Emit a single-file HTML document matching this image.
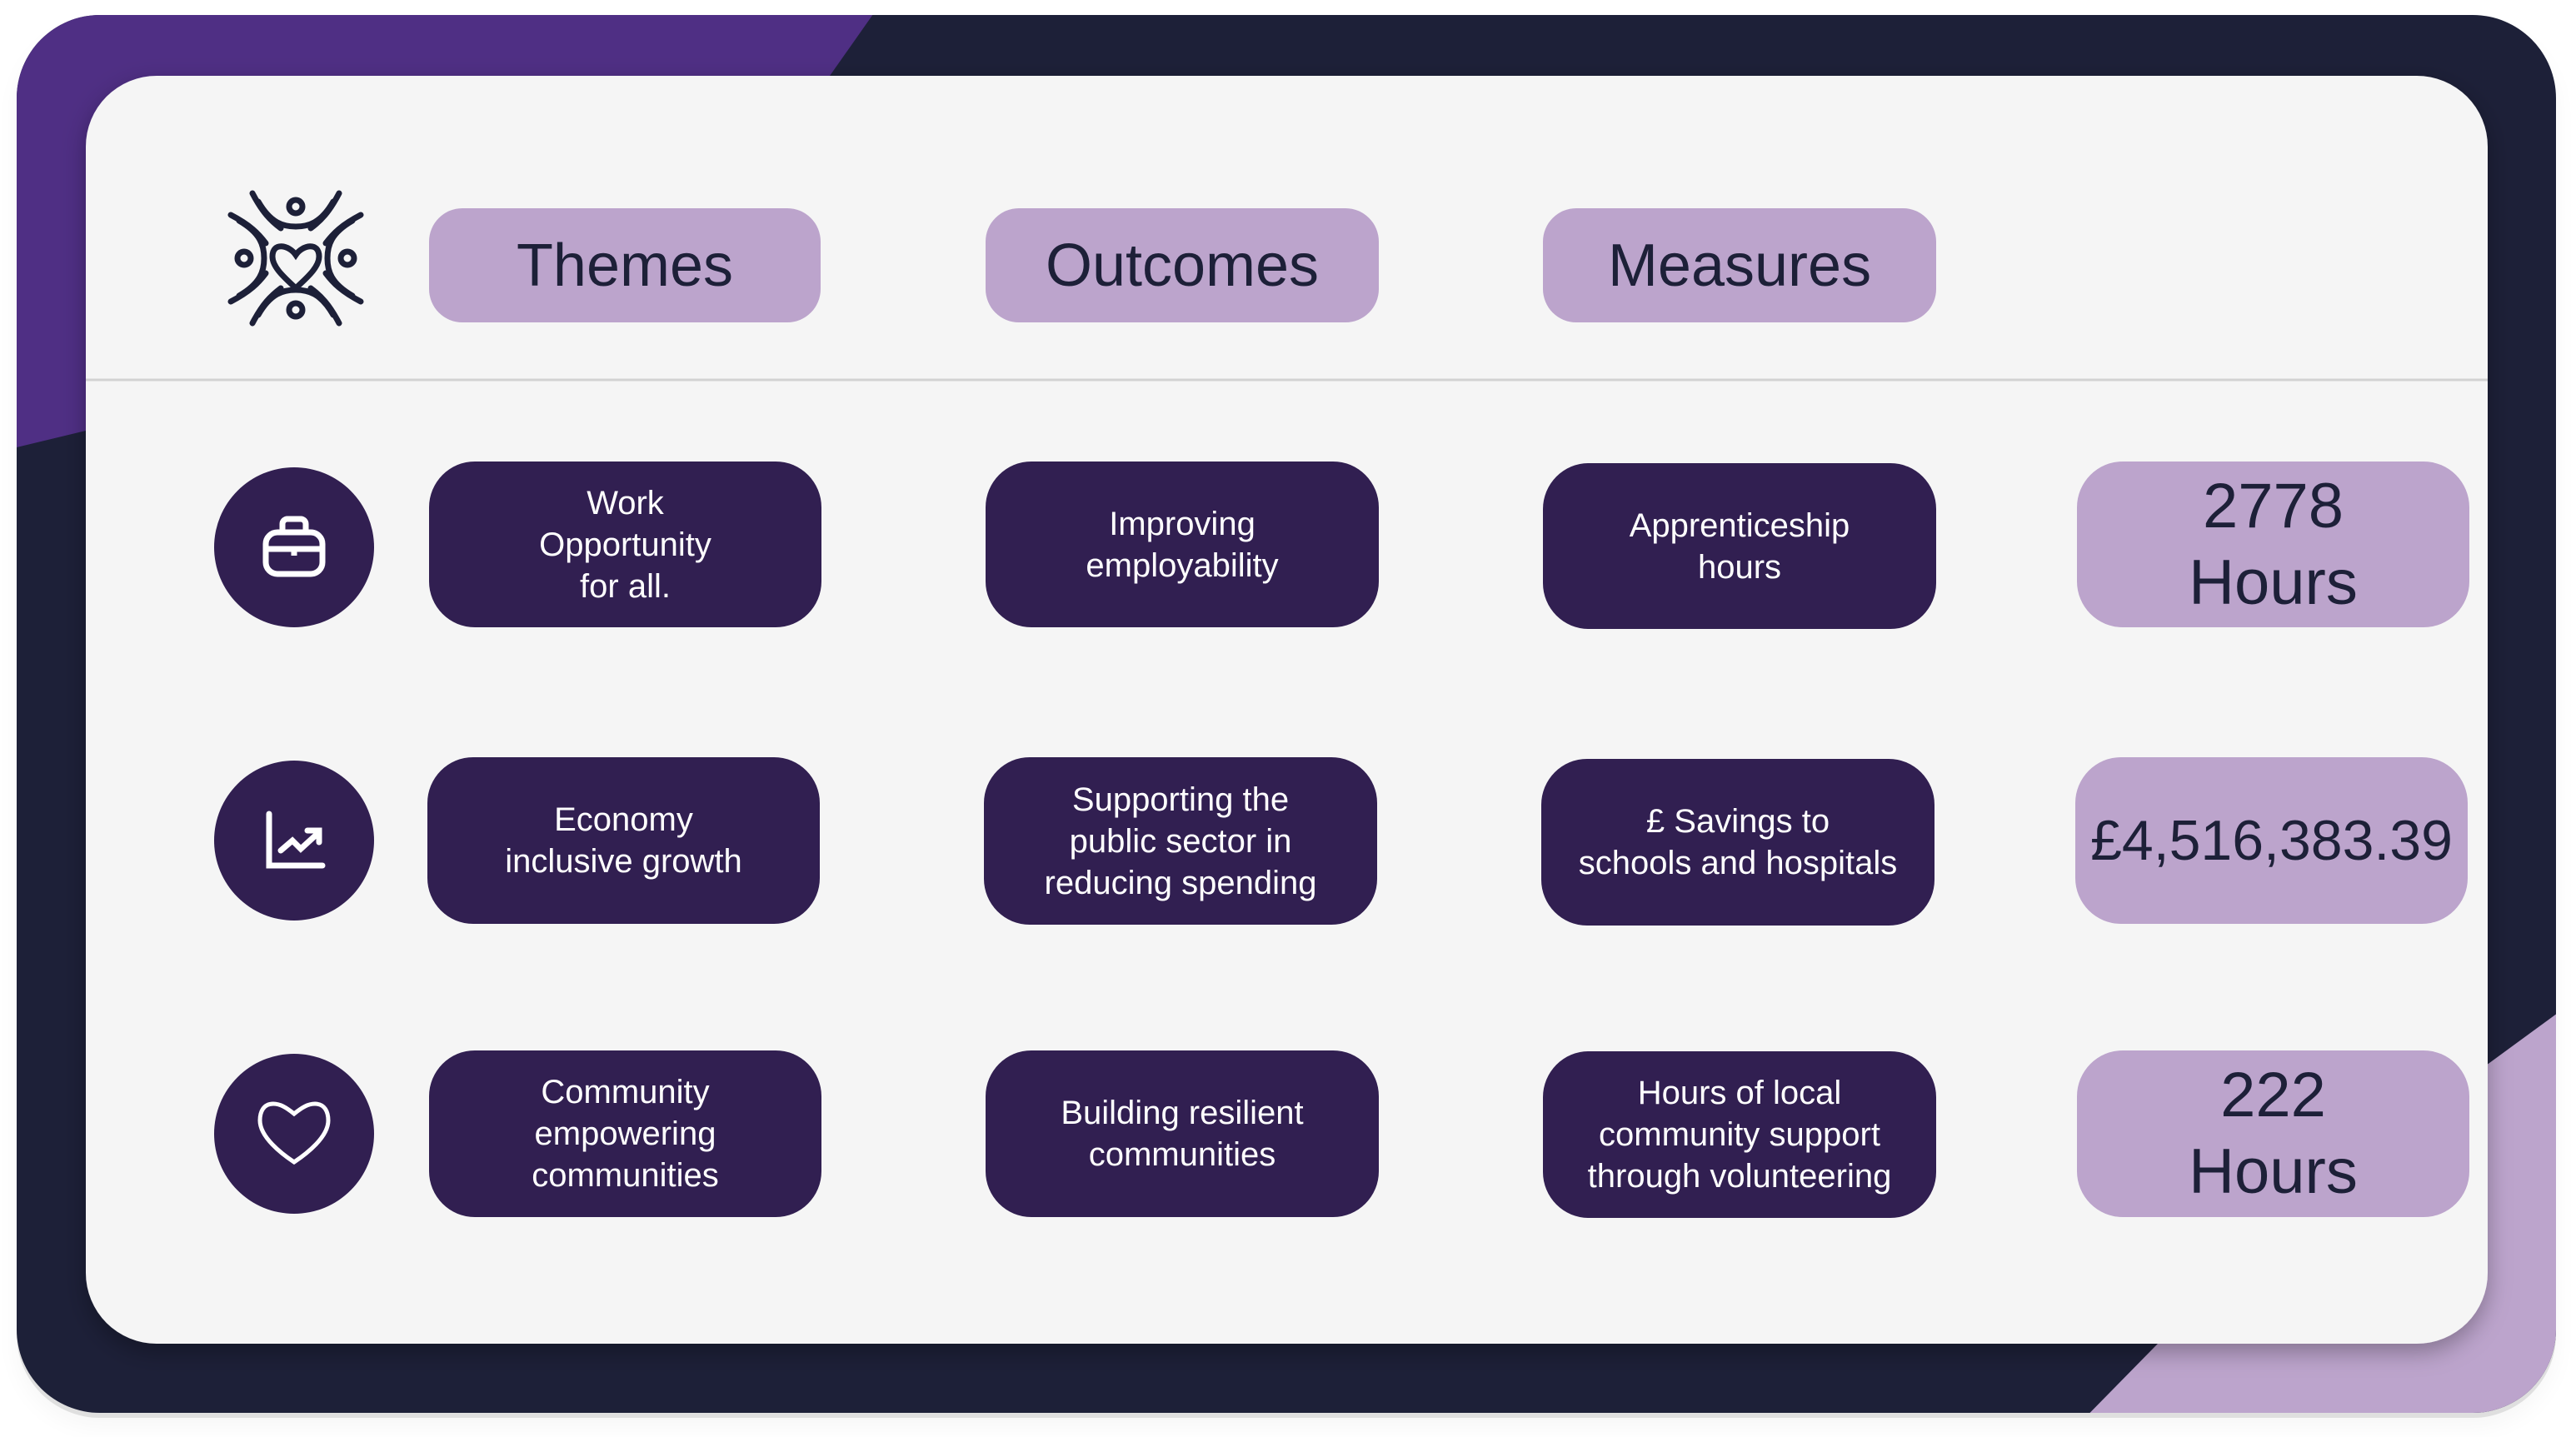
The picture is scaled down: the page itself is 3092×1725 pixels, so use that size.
<!DOCTYPE html>
<html><head><meta charset="utf-8"><style>
html,body{margin:0;padding:0;width:3092px;height:1725px;background:#fff;overflow:hidden;font-family:"Liberation Sans",sans-serif}
.a{position:absolute}
.pill{position:absolute;background:#bca4cc;color:#1d2038;border-radius:40px;display:flex;align-items:center;justify-content:center;text-align:center}
.dk{position:absolute;background:#311f51;color:#fff;border-radius:55px;display:flex;align-items:center;justify-content:center;text-align:center;font-size:40px;line-height:50px}
.circ{position:absolute;width:192px;height:192px;border-radius:50%;background:#311f51;display:flex;align-items:center;justify-content:center}
.lv{position:absolute;background:#bca4cc;color:#1d2038;border-radius:55px;display:flex;align-items:center;justify-content:center;text-align:center;font-size:76px;line-height:92px}
</style></head><body>
<svg class="a" style="left:0;top:0" width="3092" height="1725">
<defs><clipPath id="c"><rect x="20" y="18" width="3048" height="1678" rx="100"/></clipPath>
<filter id="sh" x="-5%" y="-5%" width="110%" height="115%"><feDropShadow dx="0" dy="10" stdDeviation="14" flood-color="#000" flood-opacity="0.3"/></filter></defs>
<rect x="20" y="24" width="3048" height="1678" rx="100" fill="#000" opacity="0.12" filter="url(#sh)"/>
<g clip-path="url(#c)">
<rect x="0" y="0" width="3092" height="1725" fill="#1d2038"/>
<polygon points="0,0 1060,0 996,91 103,517 20,537 0,540" fill="#4f2f84"/>
<polygon points="3092,1200 3092,1725 2480,1725 2750,1450" fill="#bca4cc"/>
</g>
<rect x="103" y="91" width="2883" height="1522" rx="85" fill="#f5f5f5" filter="url(#sh)"/>
<line x1="103" y1="456" x2="2986" y2="456" stroke="#d2d2d2" stroke-width="3"/>
<!-- logo -->
<g transform="translate(355,310)" fill="none" stroke="#1d2038" stroke-width="7" stroke-linecap="round">
<path d="M0,8 C-8,-4 -28,-8 -28,10 C-28,24 -10,38 0,48 C10,38 28,24 28,10 C28,-8 8,-4 0,8Z" transform="translate(0,-12)"/>
<circle cx="0" cy="-62" r="8"/><circle cx="0" cy="62" r="8"/><circle cx="-62" cy="0" r="8"/><circle cx="62" cy="0" r="8"/>
<path d="M-45,-68 C-30,-42 -15,-38 0,-38 C15,-38 30,-42 45,-68"/>
<path d="M-45,68 C-30,42 -15,38 0,38 C15,38 30,42 45,68"/>
<path d="M-68,-45 C-42,-30 -38,-15 -38,0 C-38,15 -42,30 -68,45"/>
<path d="M68,-45 C42,-30 38,-15 38,0 C38,15 42,30 68,45"/>
<path d="M-52,-78 C-40,-55 -30,-45 -18,-36"/><path d="M52,-78 C40,-55 30,-45 18,-36"/>
<path d="M-52,78 C-40,55 -30,45 -18,36"/><path d="M52,78 C40,55 30,45 18,36"/>
<path d="M-78,-52 C-55,-40 -45,-30 -36,-18"/><path d="M78,-52 C55,-40 45,-30 36,-18"/>
<path d="M-78,52 C-55,40 -45,30 -36,18"/><path d="M78,52 C55,40 45,30 36,18"/>
</g>
</svg>
<div class="pill" style="left:515px;top:250px;width:470px;height:137px;font-size:72px">Themes</div>
<div class="pill" style="left:1183px;top:250px;width:472px;height:137px;font-size:72px">Outcomes</div>
<div class="pill" style="left:1852px;top:250px;width:472px;height:137px;font-size:72px">Measures</div>

<div class="circ" style="left:257px;top:561px"><svg width="80" height="80" viewBox="0 0 80 80" fill="none" stroke="#fff" stroke-width="7"><rect x="6" y="22" width="68" height="50" rx="14"/><path d="M26,22 V12 a6,6 0 0 1 6,-6 h16 a6,6 0 0 1 6,6 V22"/><path d="M8,42 H72"/><path d="M40,40 V50"/></svg></div>
<div class="circ" style="left:257px;top:913px"><svg width="80" height="80" viewBox="0 0 80 80" fill="none" stroke="#fff" stroke-width="7" stroke-linecap="round"><path d="M10,8 V70 H74"/><path d="M24,52 L38,40 L48,50 L70,30"/><path d="M56,28 H70 V42"/></svg></div>
<div class="circ" style="left:257px;top:1265px"><svg width="90" height="80" viewBox="0 0 90 80" fill="none" stroke="#fff" stroke-width="5"><path d="M45,16 C35,8 28,4 20,4 C8,4 4,14 4,24 C4,44 30,64 45,74 C60,64 86,44 86,24 C86,14 82,4 70,4 C62,4 55,8 45,16Z"/></svg></div>

<div class="dk" style="left:515px;top:554px;width:471px;height:199px">Work<br>Opportunity<br>for all.</div>
<div class="dk" style="left:1183px;top:554px;width:472px;height:199px">Improving<br>employability</div>
<div class="dk" style="left:1852px;top:556px;width:472px;height:199px">Apprenticeship<br>hours</div>
<div class="lv" style="left:2493px;top:554px;width:471px;height:199px">2778<br>Hours</div>

<div class="dk" style="left:513px;top:909px;width:471px;height:200px">Economy<br>inclusive growth</div>
<div class="dk" style="left:1181px;top:909px;width:472px;height:201px">Supporting the<br>public sector in<br>reducing spending</div>
<div class="dk" style="left:1850px;top:911px;width:472px;height:200px">£ Savings to<br>schools and hospitals</div>
<div class="lv" style="left:2491px;top:909px;width:471px;height:200px;font-size:68px">£4,516,383.39</div>

<div class="dk" style="left:515px;top:1261px;width:471px;height:200px">Community<br>empowering<br>communities</div>
<div class="dk" style="left:1183px;top:1261px;width:472px;height:200px">Building resilient<br>communities</div>
<div class="dk" style="left:1852px;top:1262px;width:472px;height:200px">Hours of local<br>community support<br>through volunteering</div>
<div class="lv" style="left:2493px;top:1261px;width:471px;height:200px">222<br>Hours</div>
</body></html>
